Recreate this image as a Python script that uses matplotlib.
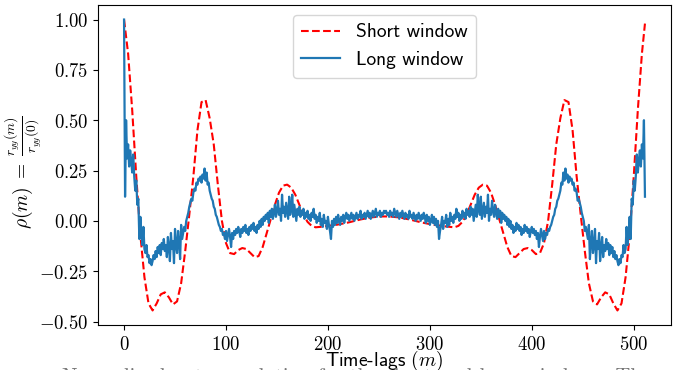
import matplotlib
matplotlib.use("Agg")
import matplotlib.pyplot as plt
from matplotlib.ticker import FuncFormatter, FixedLocator

plt.rcParams['mathtext.fontset'] = 'cm'

# Short window autocorrelation, read every 4 lags for lags 0..256 (symmetric: rho(m) = rho(512-m))
short_half = [1.00, 0.83, 0.55, 0.22, -0.07, -0.28, -0.41, -0.445, -0.41, -0.365,
              -0.355, -0.38, -0.415, -0.40, -0.31, -0.15, 0.03, 0.22, 0.45, 0.59,
              0.60, 0.51, 0.38, 0.18, 0.00, -0.11, -0.16, -0.165, -0.145, -0.135,
              -0.14, -0.16, -0.18, -0.175, -0.13, -0.06, 0.01, 0.08, 0.14, 0.175,
              0.18, 0.165, 0.13, 0.08, 0.03, -0.005, -0.025, -0.032, -0.03, -0.028,
              -0.025, -0.022, -0.02, -0.016, -0.012, -0.008, -0.003, 0.002, 0.007, 0.011,
              0.015, 0.018, 0.02, 0.022, 0.022]
short_last = 0.98  # value at lag 511
short_lags = list(range(0, 509, 4)) + [511]
short_vals = short_half + short_half[-2:0:-1] + [short_last]

# Long window autocorrelation for lags 0..256 (symmetric: rho(m) = rho(512-m))
long_half = [
    1.00, 0.12, 0.50, 0.31, 0.38, 0.27, 0.35, 0.30, 0.24, 0.33,
    0.22, 0.15, 0.20, 0.08, 0.11, -0.09, 0.02, -0.06, -0.12, -0.03,
    -0.14, -0.16, -0.12, -0.18, -0.17, -0.21, -0.19, -0.22, -0.20, -0.17,
    -0.19, -0.15, -0.18, -0.13, -0.16, -0.12, -0.17, -0.11, -0.14, -0.09,
    -0.15, -0.12, -0.18, -0.08, -0.13, -0.20, -0.06, -0.14, -0.10, -0.21,
    -0.04, -0.12, -0.16, -0.05, -0.11, -0.19, -0.02, -0.09, -0.06, -0.03,
    -0.05, 0.00, 0.02, 0.04, 0.07, 0.09, 0.11, 0.10, 0.14, 0.16,
    0.15, 0.19, 0.18, 0.21, 0.20, 0.22, 0.19, 0.23, 0.21, 0.26,
    0.20, 0.24, 0.18, 0.19, 0.15, 0.13, 0.11, 0.10, 0.07, 0.06,
    0.03, 0.02, 0.00, -0.02, -0.03, -0.05, -0.04, -0.07, -0.06, -0.09,
    -0.05, -0.10, -0.07, -0.04, -0.08, -0.13, -0.06, -0.09, -0.05, -0.07,
    -0.04, -0.06, -0.03, -0.05, -0.08, -0.04, -0.06, -0.03, -0.05, -0.02,
    -0.06, -0.04, -0.07, -0.03, -0.05, -0.02, -0.04, -0.01, -0.05, -0.03,
    -0.06, -0.02, -0.04, 0.00, -0.03, 0.01, -0.02, 0.02, 0.00, 0.03,
    0.01, 0.04, -0.01, 0.05, 0.02, 0.06, 0.01, 0.04, 0.08, 0.02,
    0.05, 0.10, 0.03, 0.06, 0.00, 0.13, 0.04, 0.07, 0.02, 0.09,
    0.05, 0.01, 0.12, 0.03, 0.06, 0.13, 0.02, 0.08, 0.04, 0.00,
    0.06, 0.03, 0.07, 0.02, 0.05, 0.03, 0.06, 0.01, 0.04, 0.02,
    0.05, 0.01, 0.03, 0.00, 0.04, 0.02, 0.06, 0.01, 0.03, -0.01,
    0.02, 0.00, 0.04, -0.02, 0.01, -0.03, 0.03, -0.01, 0.00, -0.04,
    0.02, -0.02, -0.05, -0.09, 0.00, -0.03, 0.01, -0.02, 0.02, -0.01,
    0.03, 0.00, -0.02, 0.02, 0.00, 0.03, -0.01, 0.02, 0.04, 0.01,
    0.03, 0.00, 0.02, 0.04, 0.01, 0.03, 0.00, 0.02, 0.04, 0.01,
    0.03, 0.02, 0.05, 0.01, 0.03, 0.02, 0.04, 0.01, 0.03, 0.05,
    0.02, 0.04, 0.01, 0.03, 0.05, 0.02, 0.04, 0.06, 0.02, 0.04,
    0.03, 0.05, 0.02, 0.04, 0.03, 0.05, 0.04]
long_vals = long_half + long_half[-2:0:-1]
long_lags = list(range(len(long_vals)))

xticks = [0, 100, 200, 300, 400, 500]
yticks = [-0.50, -0.25, 0.00, 0.25, 0.50, 0.75, 1.00]
series_labels = ["Short window", "Long window"]

W, H = 686, 370
fig = plt.figure(figsize=(W / 100, H / 100), dpi=100)
ax = fig.add_axes([98/W, 1 - 325/H, (671-98)/W, (325-5)/H])

ax.plot(short_lags, short_vals, 'r--', lw=1.5, label=series_labels[0])
ax.plot(long_lags, long_vals, color='#1f77b4', lw=1.6, label=series_labels[1])

ax.xaxis.set_major_locator(FixedLocator(xticks))
ax.yaxis.set_major_locator(FixedLocator(yticks))
ax.xaxis.set_major_formatter(FuncFormatter(lambda v, p: f"${v:.0f}$"))
ax.yaxis.set_major_formatter(FuncFormatter(lambda v, p: f"${v:.2f}$"))
ax.tick_params(labelsize=13.5)

# y label: "rho(m) =" followed by the fraction, drawn vertically
fig.text(23/W, 1 - 196/H, r"$\rho(m)\;=$", fontsize=14, rotation=90,
         ha='center', va='center')
fig.text(23.5/W, 1 - 136/H, r"$\frac{r_{yy}(m)}{r_{yy}(0)}$", fontsize=14, rotation=90,
         ha='center', va='center')

ax.set_xlabel(r"Time-lags $(m)$", fontsize=14, family='cmss10')
ax.xaxis.set_label_coords(0.5, -(349 - 325) / 320)
ax.xaxis.label.set_va('top')

leg = ax.legend(loc='upper center', prop={'family': 'cmss10', 'size': 14},
                handlelength=2.0, borderpad=0.45)

fig.text(62/W, 1 - 368/H, "Normalized autocorrelation for the short and long windows. The",
         fontsize=15, family='cmr10', color='#777777', va='top', ha='left')

fig.savefig("out.png", dpi=100)
